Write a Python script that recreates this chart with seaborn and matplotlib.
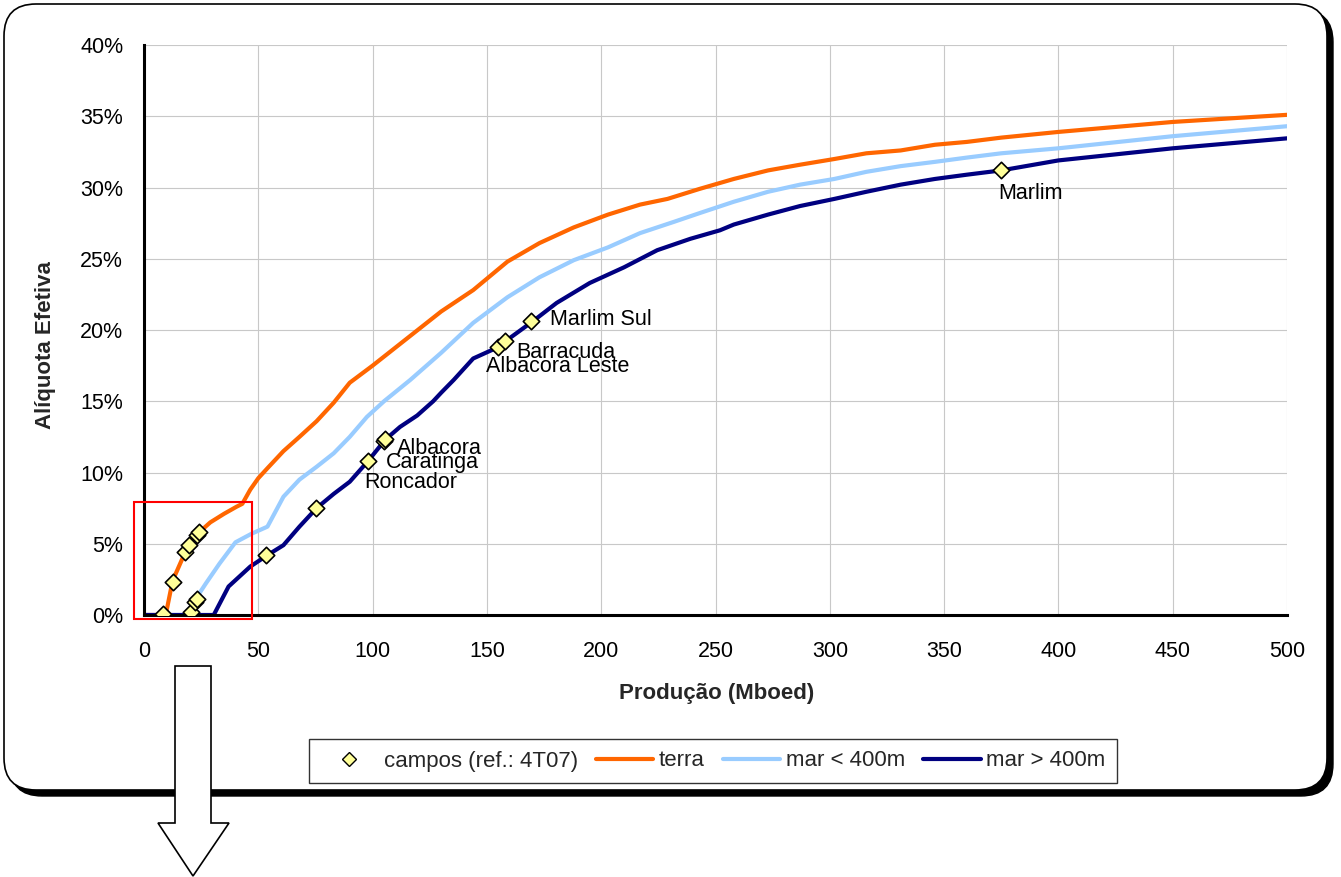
import matplotlib
matplotlib.use("Agg")
import matplotlib.pyplot as plt
from matplotlib.patches import FancyBboxPatch, Polygon, Rectangle
from matplotlib.lines import Line2D
import numpy as np
import pandas as pd
import seaborn as sns

# curvas de aliquota efetiva - producao em Mboed, aliquota em %
terra_x = [0, 9.5, 12.5, 18, 22, 29, 35, 40.5, 43, 46.5, 50, 54, 61, 68, 75.5, 83, 90, 100, 115,
           130, 144, 159, 173, 188, 203, 217, 229, 243, 258, 273, 287, 302, 316, 331, 346, 360,
           375, 400, 450, 500]
terra_y = [0, 0, 2.4, 4.4, 5.5, 6.5, 7.1, 7.6, 7.8, 8.8, 9.6, 10.3, 11.5, 12.5, 13.6, 14.9, 16.3,
           17.5, 19.4, 21.3, 22.8, 24.8, 26.1, 27.2, 28.1, 28.8, 29.2, 29.9, 30.6, 31.2, 31.6,
           32.0, 32.4, 32.6, 33.0, 33.2, 33.5, 33.9, 34.6, 35.1]

raso_x = [0, 20, 22.5, 27, 33, 40, 47, 54, 58, 61, 68, 75.5, 83, 90, 97.5, 105, 116.5, 130, 144,
          159, 173, 188, 203, 217, 232, 243, 258, 273, 287, 302, 316, 331, 346, 360, 375, 400,
          450, 500]
raso_y = [0, 0, 1.1, 2.2, 3.6, 5.1, 5.7, 6.2, 7.4, 8.3, 9.5, 10.4, 11.35, 12.5, 13.9, 15.0, 16.5,
          18.4, 20.5, 22.3, 23.7, 24.9, 25.8, 26.8, 27.6, 28.2, 29.0, 29.7, 30.2, 30.6, 31.1,
          31.5, 31.8, 32.1, 32.4, 32.75, 33.6, 34.3]

fundo_x = [0, 30.5, 37, 46.5, 54, 61, 68, 75.5, 83, 90, 98, 105.5, 112, 119.5, 126.5, 130, 135.5,
           144, 155, 158, 170, 180.5, 195, 210, 224.5, 239, 252, 258, 273, 287, 302, 316, 331,
           346, 360, 375, 400, 450, 500]
fundo_y = [0, 0, 2.0, 3.4, 4.2, 4.9, 6.2, 7.5, 8.5, 9.35, 10.8, 12.3, 13.2, 14.0, 15.0, 15.6, 16.5,
           18.0, 18.8, 19.2, 20.6, 21.9, 23.3, 24.4, 25.6, 26.4, 27.0, 27.4, 28.1, 28.7, 29.2,
           29.7, 30.2, 30.6, 30.9, 31.2, 31.9, 32.75, 33.45]

# campos (ref.: 4T07)
campos_x = [8.5, 12.9, 18, 19.9, 23.1, 24.1, 20.5, 22.5, 23.4, 53.5, 75.3, 98.2, 104.8, 105.5,
            155, 158, 169.5, 374.8]
campos_y = [0.05, 2.35, 4.4, 4.9, 5.6, 5.8, 0.2, 0.9, 1.15, 4.2, 7.5, 10.8, 12.2, 12.35,
            18.8, 19.2, 20.6, 31.2]
campos_nome = ["", "", "", "", "", "", "", "", "", "", "", "Roncador", "Caratinga", "Albacora",
               "Albacora Leste", "Barracuda", "Marlim Sul", "Marlim"]

series = ["terra", "mar < 400m", "mar > 400m"]
x_ticks = list(range(0, 501, 50))
y_ticks = list(range(0, 41, 5))
y_ticklabels = [f"{v}%" for v in y_ticks]

cores = {"terra": "#FF6600", "mar < 400m": "#99CCFF", "mar > 400m": "#000080"}

# deslocamento dos rotulos em pixels
rot_off = {"Roncador": (-4, -21), "Caratinga": (2, -21), "Albacora": (12, -9),
           "Albacora Leste": (-12, -19), "Barracuda": (11, -11), "Marlim Sul": (19, 1.5),
           "Marlim": (-3, -23)}

df = pd.concat([
    pd.DataFrame({"prod": terra_x, "aliq": terra_y, "serie": series[0]}),
    pd.DataFrame({"prod": raso_x, "aliq": raso_y, "serie": series[1]}),
    pd.DataFrame({"prod": fundo_x, "aliq": fundo_y, "serie": series[2]}),
], ignore_index=True)

sns.set_style("white")
plt.rcParams["font.family"] = ["Liberation Sans", "DejaVu Sans"]

W, H = 1341, 877
fs = 15.5
fig = plt.figure(figsize=(W / 100, H / 100), dpi=100)

# moldura arredondada com sombra
def px_box(x0, y0, x1, y1):
    return (x0 / 100, (H - y1) / 100), (x1 - x0) / 100, (y1 - y0) / 100

(bx, by), bw, bh = px_box(10, 10, 1333, 796)
fig.add_artist(FancyBboxPatch((bx, by), bw, bh, boxstyle="round,pad=0,rounding_size=0.32",
                              transform=fig.dpi_scale_trans, fc="black", ec="black", zorder=-2))
(bx, by), bw, bh = px_box(4, 4, 1327, 790)
fig.add_artist(FancyBboxPatch((bx, by), bw, bh, boxstyle="round,pad=0,rounding_size=0.32",
                              transform=fig.dpi_scale_trans, fc="white", ec="black", lw=1.2,
                              zorder=-1))

ax = fig.add_axes([144 / W, 1 - 615 / H, 1143 / W, 570 / H])
ax.set_facecolor("none")

sns.lineplot(data=df, x="prod", y="aliq", hue="serie", hue_order=series, palette=cores,
             estimator=None, sort=False, lw=3, legend=False, ax=ax, zorder=3)
sns.scatterplot(x=campos_x, y=campos_y, marker="D", s=70, color="#FFFF99", edgecolor="black",
                linewidth=1.2, legend=False, ax=ax, zorder=4)

for x, y, nome in zip(campos_x, campos_y, campos_nome):
    if nome:
        ax.annotate(nome, (x, y), xytext=rot_off[nome], textcoords="offset pixels",
                    ha="left", va="center", fontsize=fs, color="black", zorder=5)

ax.set_xlim(0, 500)
ax.set_ylim(0, 40)
ax.set_xticks(x_ticks)
ax.set_yticks(y_ticks)
ax.set_yticklabels(y_ticklabels)
ax.grid(True, color="#c8c8c8", lw=0.8)
ax.set_axisbelow(True)
for s in ["top", "right"]:
    ax.spines[s].set_visible(False)
for s in ["left", "bottom"]:
    ax.spines[s].set_linewidth(2.2)
    ax.spines[s].set_color("black")
    ax.spines[s].set_zorder(3.5)
ax.tick_params(axis="both", direction="out", length=6, width=2, color="black",
               labelsize=fs, labelcolor="black")
ax.tick_params(axis="x", pad=13)
ax.tick_params(axis="y", pad=9)

ax.set_xlabel("Produção (Mboed)", fontsize=16, fontweight="bold")
ax.set_ylabel("Alíquota Efetiva", fontsize=16, fontweight="bold")
ax.xaxis.set_label_coords((717 - 144) / 1143, (615 - 683) / 570)
ax.yaxis.set_label_coords((56 - 144) / 1143, (615 - 345) / 570)

# quadro vermelho na regiao inicial
ax.add_patch(Rectangle((-4.2, -0.28), 51.6, 8.2, fill=False, ec="red", lw=1.5,
                       clip_on=False, zorder=6))

handles = [Line2D([], [], ls="none", marker="D", ms=7, mfc="#FFFF99", mec="black", mew=1)]
handles += [Line2D([], [], color=cores[s], lw=3) for s in series]
labels = ["campos (ref.: 4T07)"] + series
leg = fig.legend(handles, labels, loc="center", bbox_to_anchor=(713 / W, 1 - 761 / H), ncol=4,
                 frameon=True, fancybox=False, edgecolor="black", fontsize=16,
                 handlelength=2.6, handletextpad=0.25, columnspacing=0.8, borderpad=0.5)
leg.get_frame().set_linewidth(1.0)

# seta para baixo
seta = [(175, 666), (211, 666), (211, 823), (229, 823), (193, 876), (158, 823), (175, 823)]
fig.add_artist(Polygon([(x / 100, (H - y) / 100) for x, y in seta], closed=True,
                       transform=fig.dpi_scale_trans, fc="white", ec="black", lw=1.2, zorder=10))

fig.savefig("out.png", dpi=100)
